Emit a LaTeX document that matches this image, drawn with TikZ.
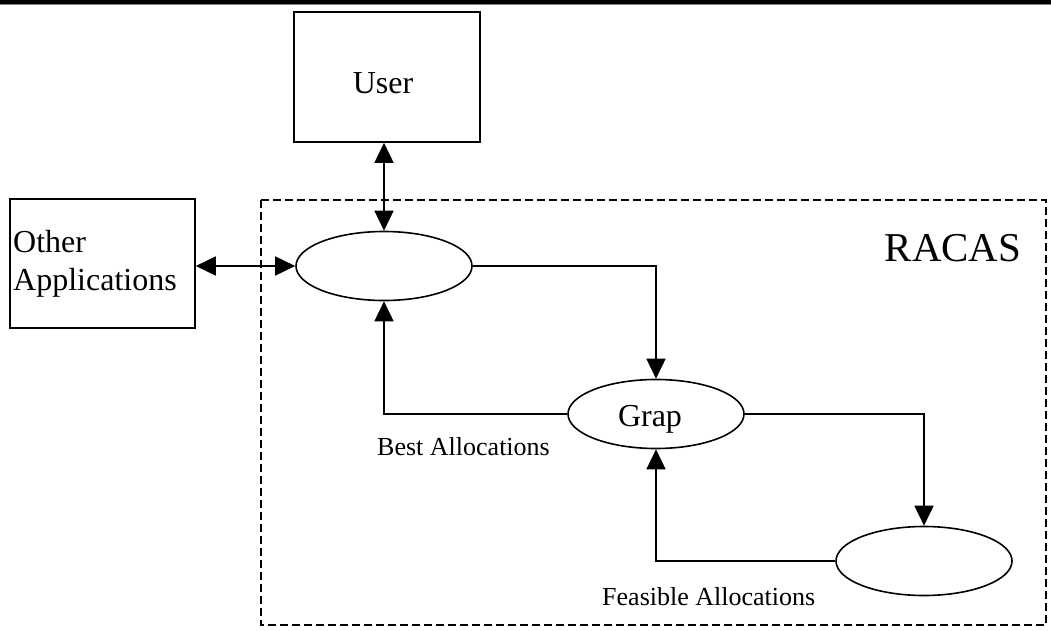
\documentclass[tikz,border=0pt]{standalone}
\usepackage{fontspec}
\setmainfont{Liberation Serif}
\usetikzlibrary{shapes.geometric,arrows.meta}
\begin{document}
\begin{tikzpicture}[x=1pt,y=-1pt,
  lw/.style={line width=1.6pt},
  boxnode/.style={draw,lw,rectangle,inner sep=0pt,font=\fontsize{32}{38}\selectfont},
  ell/.style={draw,lw,ellipse,minimum width=176pt,minimum height=69pt,inner sep=0pt,font=\fontsize{32}{38}\selectfont},
  conn/.style={lw,-{Triangle[length=20pt,width=19pt]}},
  biconn/.style={lw,{Triangle[length=20pt,width=19pt]}-{Triangle[length=20pt,width=19pt]}},
  lbl/.style={inner sep=0pt,font=\fontsize{26}{30}\selectfont},
  dashbox/.style={lw,dash pattern=on 8pt off 4pt}]
\useasboundingbox (0,0) rectangle (1051,631);
% top rule
\fill[black] (0,0) rectangle (1051,4);
\fill[gray] (0,4) rectangle (1051,5);
% boxes
\node[boxnode,minimum width=186pt,minimum height=130pt] (user) at (387,77) {};
\node[inner sep=0pt,anchor=base,font=\fontsize{32}{38}\selectfont] (usertext) at (383,94) {User};
\node[boxnode,minimum width=185pt,minimum height=129pt] (other) at (102.5,263.5) {};
\node[inner sep=0pt,anchor=base west,font=\fontsize{32}{38}\selectfont] (otherA) at (13,252) {Other};
\node[inner sep=0pt,anchor=base west,font=\fontsize{32}{38}\selectfont] (otherB) at (13,290) {Applications};
% RACAS frame
\draw[dashbox] (261,200) rectangle (1046,625);
\node[inner sep=0pt,anchor=base,font=\fontsize{41}{46}\selectfont] (racas) at (953,261) {RACAS};
% ellipses
\node[ell] (e1) at (384,266) {};
\node[ell] (grap) at (656,414) {};
\node[inner sep=0pt,anchor=base,font=\fontsize{32}{38}\selectfont] (graptext) at (650,426) {Grap};
\node[ell] (e3) at (924,561) {};
% labels
\node[lbl,anchor=base west] (best) at (377,455) {Best Allocations};
\node[lbl,anchor=base west] (feas) at (602,605) {Feasible Allocations};
% connectors
\draw[biconn] (e1.north) -- (e1.north |- user.south);
\draw[biconn] (e1.west) -- (e1.west -| other.east);
\draw[conn] (e1.east) -| (grap.north);
\draw[conn] (grap.west) -| (e1.south);
\draw[conn] (grap.east) -| (e3.north);
\draw[conn] (e3.west) -| (grap.south);
\end{tikzpicture}
\end{document}
